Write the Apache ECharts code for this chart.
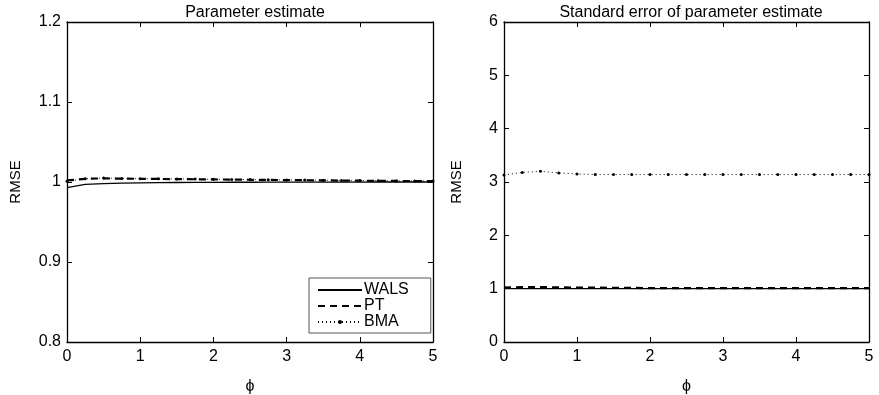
<!DOCTYPE html>
<html><head><meta charset="utf-8">
<script src="https://cdn.jsdelivr.net/npm/echarts@6/dist/echarts.min.js"></script>
<style>html,body{margin:0;padding:0;background:#fff}#c{width:879px;height:395px}</style>
</head><body><div id="c"></div>
<script>
const phi = [0,0.25,0.5,0.75,1,1.25,1.5,1.75,2,2.25,2.5,2.75,3,3.25,3.5,3.75,4,4.25,4.5,4.75,5];
const xTicks = [0,1,2,3,4,5];
const leftYTicks = [0.8,0.9,1,1.1,1.2];
const rightYTicks = [0,1,2,3,4,5,6];
// Parameter estimate RMSE
const walsEst = [0.993,0.997,0.998,0.9985,0.999,0.9992,0.9994,0.9995,0.9996,0.9997,0.9997,0.9998,0.9998,0.9998,0.9999,0.9999,0.9999,1.0,1.0,1.0,1.0];
const ptEst   = [1.002,1.004,1.0045,1.0042,1.004,1.0038,1.0036,1.0034,1.0032,1.003,1.0028,1.0026,1.0024,1.0022,1.002,1.0018,1.0016,1.0015,1.0013,1.0012,1.0011];
const bmaEst  = [1.001,1.004,1.005,1.0045,1.0042,1.004,1.0038,1.0036,1.0034,1.0032,1.003,1.0028,1.0026,1.0024,1.0022,1.002,1.0018,1.0016,1.0014,1.0013,1.0012];
// Standard error RMSE
const walsSe = [1.0,1.0,1.0,1.0,1.0,1.0,1.0,1.0,1.0,1.0,1.0,1.0,1.0,1.0,1.0,1.0,1.0,1.0,1.0,1.0,1.0];
const ptSe   = [1.02,1.03,1.03,1.025,1.02,1.02,1.015,1.015,1.01,1.01,1.01,1.01,1.01,1.01,1.01,1.01,1.01,1.01,1.01,1.01,1.01];
const bmaSe  = [3.13,3.18,3.2,3.17,3.15,3.14,3.14,3.14,3.14,3.14,3.14,3.14,3.14,3.14,3.14,3.14,3.14,3.14,3.14,3.14,3.14];

const FONT = 'Liberation Sans';
const pair = (a) => phi.map((x,i)=>[x,a[i]]);
const grids = [
  {left:67, top:22, width:366, height:320, outerBoundsMode:'none', containLabel:false},
  {left:504, top:22, width:365, height:320, outerBoundsMode:'none', containLabel:false}
];
function xAx(g, pos){
  const main = pos==='bottom';
  return {type:'value', gridIndex:g, position:pos, min:0, max:5, interval:1,
    name: main ? 'ϕ' : '', nameLocation:'middle', nameGap:37,
    nameTextStyle:{fontFamily:FONT,fontSize:16,color:'#000'},
    axisLine:{show:true,onZero:false,lineStyle:{color:'#000',width:1.3}},
    axisTick:{show:true,inside:true,length:5,lineStyle:{color:'#000'}},
    axisLabel:{show:main,margin:7,fontFamily:FONT,fontSize:16,color:'#000'},
    splitLine:{show:false}};
}
function yAx(g, pos, mn, mx, iv){
  const main = pos==='left';
  return {type:'value', gridIndex:g, position:pos, min:mn, max:mx, interval:iv,
    name: main ? 'RMSE' : '', nameLocation:'middle', nameGap: g===0?44:40, nameRotate:90,
    nameTextStyle:{fontFamily:FONT,fontSize:15,color:'#000'},
    axisLine:{show:true,onZero:false,lineStyle:{color:'#000',width:1.3}},
    axisTick:{show:true,inside:true,length:5,lineStyle:{color:'#000'}},
    axisLabel:{show:main,margin:6,fontFamily:FONT,fontSize:16,color:'#000'},
    splitLine:{show:false}};
}
const solid = {color:'#000', width:1.3, type:'solid'};
const dashed = {color:'#000', width:2.2, type:[7,5]};
const dotted = {color:'#000', width:1, type:[1,3]};
function ser(name, data, xi, yi, ls, sym){
  return {name, type:'line', data:pair(data), xAxisIndex:xi, yAxisIndex:yi,
    showSymbol: !!sym, symbol: sym ? 'circle' : 'none', symbolSize: 3,
    itemStyle:{color:'#000'}, lineStyle:ls, animation:false, silent:true, z: name==='BMA'?3:2};
}
const chart = echarts.init(document.getElementById('c'), null, {renderer:'canvas'});
chart.setOption({
  animation:false,
  backgroundColor:'#fff',
  title:[
    {text:'Parameter estimate', left:250, top:0, textAlign:'center', textStyle:{fontFamily:FONT,fontSize:16,fontWeight:'normal',color:'#000'}},
    {text:'Standard error of parameter estimate', left:686, top:0, textAlign:'center', textStyle:{fontFamily:FONT,fontSize:16,fontWeight:'normal',color:'#000'}}
  ],
  grid: grids,
  xAxis:[xAx(0,'bottom'), xAx(0,'top'), xAx(1,'bottom'), xAx(1,'top')],
  yAxis:[yAx(0,'left',0.8,1.2,0.1), yAx(0,'right',0.8,1.2,0.1), yAx(1,'left',0,6,1), yAx(1,'right',0,6,1)],
  legend:{
    data:[
      {name:'WALS', itemStyle:{opacity:0}},
      {name:'PT', itemStyle:{opacity:0}},
      {name:'BMA'}
    ],
    orient:'vertical', left:309, top:278,
    itemWidth:44, itemHeight:5, itemGap:0, padding:[4,22,3,8],
    borderColor:'#555', borderWidth:1, backgroundColor:'#fff', borderRadius:0,
    textStyle:{fontFamily:FONT,fontSize:16,color:'#000',lineHeight:16,padding:[0,0,0,-3]},
    selectedMode:false
  },
  series:[
    ser('WALS', walsEst, 0, 0, solid, false),
    ser('PT', ptEst, 0, 0, dashed, false),
    ser('BMA', bmaEst, 0, 0, dotted, true),
    ser('WALS', walsSe, 2, 2, solid, false),
    ser('PT', ptSe, 2, 2, dashed, false),
    ser('BMA', bmaSe, 2, 2, dotted, true)
  ]
});
</script></body></html>
